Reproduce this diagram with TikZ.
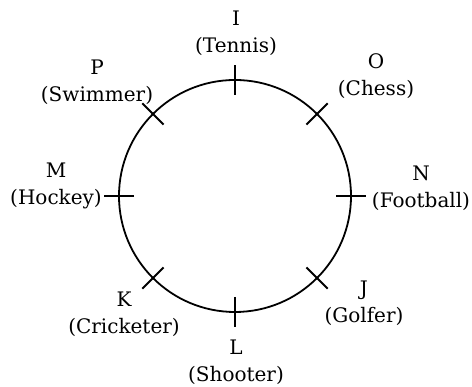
\documentclass[tikz,border=0pt]{standalone}
\usepackage{fontspec}
\setmainfont{DejaVu Serif}
\begin{document}
\begin{tikzpicture}[x=1pt,y=1pt,
  lbl/.style={align=center,inner sep=0pt,font=\fontsize{20}{27}\selectfont,text=black},
  tick/.style={line width=2pt},
  ring/.style={line width=1.8pt}]
\useasboundingbox (0,0) rectangle (472,387);
\coordinate (c) at (235,191);
\draw[ring] (c) circle (116);
\foreach \a/\n in {90/i,45/o,0/n,-45/j,-90/l,-135/k,180/m,135/p}{
  \coordinate (\n in) at ([shift={(\a:101)}]c);
  \coordinate (\n out) at ([shift={(\a:131)}]c);
  \draw[tick] (\n in) -- (\n out);
}
\node[lbl] (I) at (236,354) {I\\(Tennis)};
\node[lbl] (P) at (97,305) {P\\(Swimmer)};
\node[lbl] (O) at (376,311) {O\\(Chess)};
\node[lbl] (M) at (56,201) {M\\(Hockey)};
\node[lbl] (N) at (421,199) {N\\(Football)};
\node[lbl] (K) at (124,73) {K\\(Cricketer)};
\node[lbl] (L) at (236,25) {L\\(Shooter)};
\node[lbl] (J) at (364,84) {J\\(Golfer)};
\end{tikzpicture}
\end{document}
